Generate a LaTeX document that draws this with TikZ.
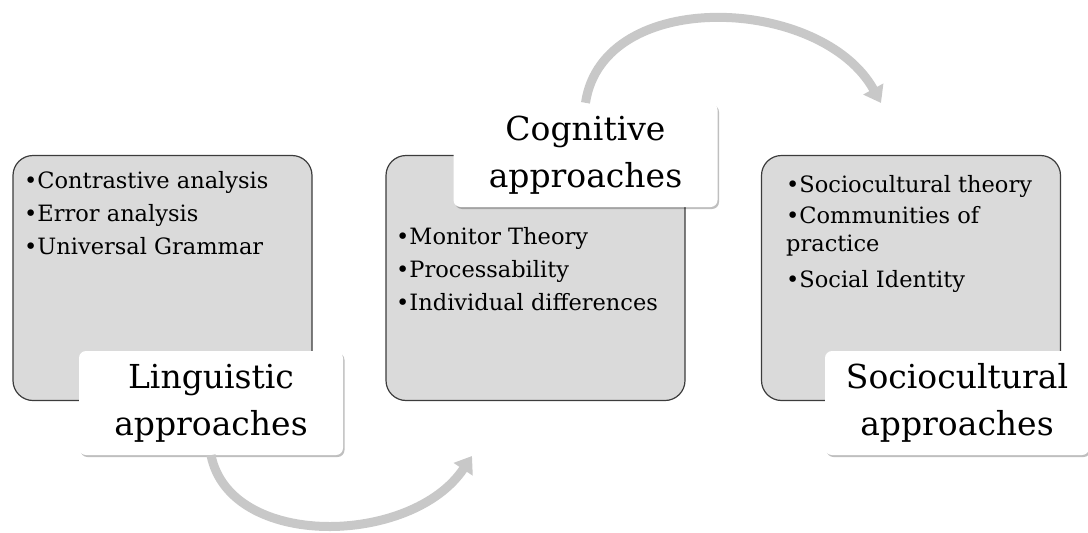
\documentclass[tikz,border=0pt]{standalone}
\usepackage{fontspec}
\setmainfont{DejaVu Serif}
\usetikzlibrary{shadows,arrows.meta}
\definecolor{panelfill}{RGB}{218,218,218}
\definecolor{panelline}{RGB}{60,60,60}
\definecolor{flowgray}{RGB}{200,200,200}
\tikzset{
  panel/.style={draw=panelline, fill=panelfill, line width=1.2pt, rounded corners=20pt,
    minimum width=299pt, minimum height=245pt},
  items/.style={anchor=north west, align=left, inner sep=0pt, text=black,
    font=\fontsize{22.5}{28}\selectfont},
  tag/.style={fill=white, rounded corners=7pt, minimum width=264pt, minimum height=104pt,
    align=center, text=black, font=\fontsize{33}{47}\selectfont,
    drop shadow={shadow xshift=1.5pt, shadow yshift=-2pt, opacity=0.25, fill=black}},
  flow/.style={draw=flowgray, line width=9pt, -{Triangle[length=16pt,width=22pt]}}
}
\begin{document}
\begin{tikzpicture}[x=1pt, y=-1pt]
    \useasboundingbox (0,0) rectangle (1088,533);
    % the three grey panels
    \node[panel] (box1) at (162.5,278) {};
    \node[panel] (box2) at (535.5,278) {};
    \node[panel] (box3) at (911,278) {};
    \node[items] (list1) at (24,171) {•Contrastive analysis\\[5pt]•Error analysis\\[5pt]•Universal Grammar};
    \node[items] (list2) at (396,227) {•Monitor Theory\\[5pt]•Processability\\[5pt]•Individual differences};
    \node[items] (list3) at (786,175) {•Sociocultural theory\\[3pt]•Communities of\\practice\\[8pt]•Social Identity};
    % white titles
    \node[tag] (lab1) at (211,403) {Linguistic\\approaches};
    \node[tag] (lab2) at (585.5,155) {Cognitive\\approaches};
    \node[tag] (lab3) at (957,403) {Sociocultural\\approaches};
    % curved arrows
    \coordinate (tip1) at (472,456);
    \coordinate (tip2) at (881,103);
    \draw[flow] (lab1.south) .. controls (230,550) and (412,546) .. (tip1);
    \draw[flow] (lab2.north) .. controls (603,-14) and (822,-4) .. (tip2);
\end{tikzpicture}
\end{document}
